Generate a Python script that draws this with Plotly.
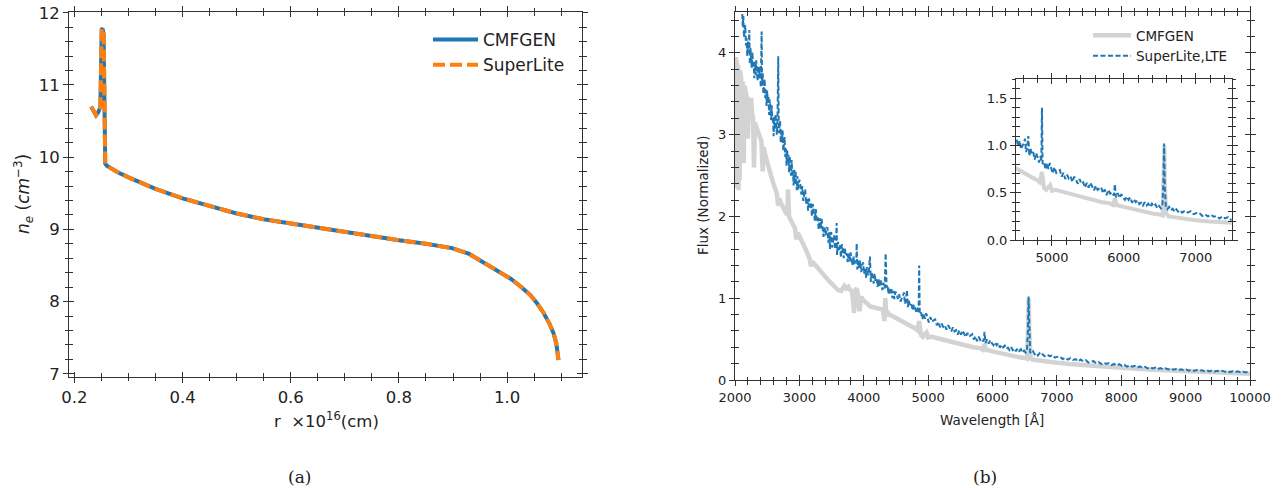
import plotly.graph_objects as go

# ---------------- Panel (a): electron density ----------------
r_vals = [0.231, 0.236, 0.240, 0.244, 0.248, 0.2505, 0.252, 0.254, 0.2555, 0.257,
          0.260, 0.270, 0.280, 0.300, 0.320, 0.350, 0.400, 0.450, 0.500, 0.550,
          0.600, 0.650, 0.700, 0.766, 0.800, 0.850, 0.898, 0.930, 0.950, 0.980,
          1.006, 1.025, 1.043, 1.056, 1.067, 1.078, 1.086, 1.091, 1.095]
ne_vals = [10.70, 10.64, 10.58, 10.62, 10.70, 11.77, 11.78, 11.70, 10.80, 9.91,
           9.88, 9.83, 9.79, 9.72, 9.66, 9.56, 9.43, 9.32, 9.22, 9.14,
           9.08, 9.02, 8.96, 8.89, 8.85, 8.80, 8.74, 8.66, 8.57, 8.44,
           8.32, 8.21, 8.09, 7.97, 7.85, 7.70, 7.56, 7.42, 7.19]

# ---------------- Panel (b): CMFGEN spectrum ----------------
wl_cmf = [2000, 2005, 2010, 2015, 2020, 2025, 2030, 2035, 2040, 2048, 2056, 2064, 2072,
          2080, 2095, 2110, 2120, 2135, 2150, 2170, 2190, 2200, 2215, 2235, 2250, 2265,
          2280, 2295, 2310, 2330, 2350, 2370, 2390, 2410, 2430, 2445, 2470, 2500, 2530,
          2560, 2590, 2620, 2650, 2670, 2690, 2720, 2750, 2780, 2810, 2825, 2840, 2870,
          2900, 2930, 2955, 2975, 3000, 3040, 3080, 3120, 3160, 3180, 3200, 3250, 3300,
          3350, 3400, 3450, 3500, 3550, 3600, 3650, 3700, 3730, 3760, 3790, 3820, 3850,
          3870, 3890, 3910, 3935, 3960, 3990, 4030, 4070, 4100, 4150, 4200, 4250, 4300,
          4320, 4335, 4350, 4380, 4400, 4450, 4500, 4550, 4600, 4650, 4700, 4750, 4800,
          4830, 4861, 4890, 4920, 4950, 4975, 5000, 5050, 5100, 5200, 5300, 5400, 5500,
          5600, 5700, 5800, 5850, 5876, 5900, 6000, 6100, 6200, 6300, 6400, 6500, 6540,
          6555, 6563, 6570, 6590, 6620, 6700, 6800, 7000, 7200, 7500, 8000, 8500, 9000,
          9500, 10000]
flux_cmf = [2.40, 3.90, 2.45, 3.95, 2.50, 3.92, 2.35, 3.88, 2.40, 3.85, 2.32, 3.80, 2.45,
            3.78, 3.70, 2.80, 3.65, 2.65, 3.60, 3.50, 3.45, 2.95, 3.40, 3.30, 3.45, 3.25,
            3.22, 2.60, 3.15, 3.10, 3.05, 3.02, 2.95, 2.92, 2.55, 2.85, 2.75, 2.68, 2.58,
            2.50, 2.42, 2.35, 2.28, 2.13, 2.22, 2.15, 2.10, 2.06, 2.02, 2.33, 2.00, 1.95,
            1.90, 1.86, 1.72, 1.80, 1.76, 1.70, 1.63, 1.56, 1.48, 1.39, 1.45, 1.40, 1.36,
            1.30, 1.26, 1.22, 1.18, 1.14, 1.10, 1.09, 1.15, 1.12, 1.14, 1.10, 1.08, 0.82,
            1.10, 1.12, 1.05, 0.84, 1.02, 0.98, 0.95, 0.93, 0.90, 0.89, 0.88, 0.87, 0.86,
            0.72, 1.00, 0.78, 0.82, 0.80, 0.78, 0.75, 0.73, 0.71, 0.69, 0.67, 0.65, 0.63,
            0.61, 0.72, 0.55, 0.53, 0.56, 0.58, 0.52, 0.53, 0.52, 0.50, 0.48, 0.45, 0.43,
            0.42, 0.40, 0.39, 0.37, 0.44, 0.37, 0.35, 0.33, 0.31, 0.30, 0.28, 0.27, 0.26,
            0.75, 1.00, 0.60, 0.28, 0.25, 0.24, 0.23, 0.21, 0.195, 0.175, 0.15, 0.125, 0.105,
            0.09, 0.075]

# ---------------- Panel (b): SuperLite (LTE) spectrum, in segments ----------------
wl_sl_a = [2100, 2110, 2120, 2130, 2140, 2150, 2160, 2170, 2180, 2190, 2200, 2210, 2222,
           2230, 2240, 2250, 2260, 2270, 2280, 2290, 2300, 2310, 2320, 2330, 2340, 2350,
           2360, 2370, 2380, 2390, 2400, 2414, 2420, 2430, 2440, 2450, 2460, 2470, 2480,
           2490, 2500, 2510, 2520, 2530, 2540, 2550, 2560, 2570, 2580, 2590, 2600, 2610,
           2620, 2630, 2640, 2650, 2660, 2672, 2680, 2690, 2700, 2710, 2720, 2730, 2740,
           2750, 2760, 2770, 2780, 2790, 2800, 2810, 2820, 2830, 2840, 2850, 2860, 2870,
           2880, 2890, 2900, 2910, 2920, 2930, 2940, 2950, 2960, 2970, 2980, 2990, 3000]
flux_sl_a = [4.75, 4.49, 4.32, 4.45, 4.19, 4.28, 4.34, 4.09, 4.18, 3.96, 4.14, 4.00, 4.28,
             3.86, 4.06, 3.94, 3.82, 4.01, 3.83, 3.88, 3.69, 3.89, 3.73, 3.91, 3.76, 3.66,
             3.84, 3.69, 3.75, 3.83, 3.58, 4.26, 3.60, 3.75, 3.50, 3.61, 3.68, 3.45, 3.55,
             3.35, 3.54, 3.39, 3.46, 3.24, 3.43, 3.31, 3.18, 3.36, 3.17, 3.22, 2.98, 3.22,
             3.06, 3.25, 3.10, 3.00, 3.18, 3.96, 3.02, 3.09, 3.17, 2.90, 3.07, 2.91, 3.05,
             2.80, 2.90, 2.97, 2.73, 2.83, 2.62, 2.82, 2.67, 2.75, 2.54, 2.74, 2.62, 2.50,
             2.69, 2.50, 2.56, 2.38, 2.57, 2.40, 2.56, 2.43, 2.32, 2.49, 2.33, 2.40, 2.45]

wl_sl_b = [3015, 3030, 3045, 3060, 3075, 3090, 3105, 3120, 3135, 3150, 3165, 3180, 3195,
           3210, 3225, 3240, 3255, 3270, 3285, 3300, 3315, 3330, 3345, 3360, 3375, 3390,
           3405, 3420, 3435, 3450, 3465, 3476, 3480, 3495, 3510, 3525, 3540, 3555, 3570,
           3579, 3585, 3600, 3615, 3630, 3645, 3660, 3675, 3690, 3705, 3720, 3735, 3750,
           3765, 3780, 3795, 3810, 3825, 3840, 3855, 3870, 3885, 3890, 3900, 3915, 3930,
           3945, 3960, 3975, 3990, 4005, 4020, 4035, 4050, 4065, 4080, 4096, 4110, 4125,
           4140, 4155, 4170, 4185, 4200, 4215, 4230, 4245, 4260, 4275, 4290, 4305, 4325,
           4340, 4355, 4370, 4385, 4400, 4415, 4430, 4445, 4460, 4475, 4490]
flux_sl_b = [2.39, 2.27, 2.37, 2.19, 2.27, 2.33, 2.15, 2.23, 2.07, 2.22, 2.11, 2.16, 2.00,
             2.15, 2.05, 1.95, 2.09, 1.95, 1.99, 1.84, 1.98, 1.85, 1.97, 1.84, 1.75, 1.88,
             1.77, 1.82, 1.87, 1.68, 1.81, 1.60, 1.73, 1.81, 1.62, 1.71, 1.77, 1.60, 1.68,
             1.92, 1.53, 1.69, 1.59, 1.65, 1.50, 1.66, 1.58, 1.49, 1.62, 1.52, 1.55, 1.44,
             1.56, 1.45, 1.56, 1.46, 1.40, 1.51, 1.42, 1.46, 1.50, 1.67, 1.35, 1.46, 1.37,
             1.46, 1.32, 1.39, 1.44, 1.30, 1.37, 1.25, 1.38, 1.28, 1.33, 1.51, 1.20, 1.32,
             1.26, 1.18, 1.30, 1.20, 1.23, 1.14, 1.23, 1.15, 1.23, 1.15, 1.10, 1.19, 1.12,
             1.55, 1.13, 1.16, 1.05, 1.13, 1.06, 1.11, 1.00, 1.09, 0.99, 1.08]

wl_sl_c = [4510, 4530, 4550, 4570, 4590, 4610, 4625, 4640, 4655, 4671, 4685, 4700, 4720,
           4740, 4760, 4780, 4800, 4820, 4840, 4852, 4861, 4870, 4890, 4910, 4930, 4950,
           4970, 4990, 5010, 5035, 5060, 5085, 5110, 5135, 5160, 5185, 5210, 5235, 5260,
           5285, 5310, 5335, 5360, 5385, 5410, 5435, 5460, 5485, 5510, 5535, 5560, 5585,
           5610, 5635, 5660, 5685, 5710, 5735, 5760, 5785, 5810, 5835, 5860, 5876, 5890,
           5915, 5940, 5965, 5990, 6015, 6040, 6065, 6090, 6115, 6140, 6165, 6190, 6215,
           6240, 6265, 6290, 6315, 6340, 6365, 6390, 6415, 6440, 6465, 6490, 6515, 6535,
           6550, 6560, 6570, 6585, 6605, 6630, 6655, 6680, 6705, 6730, 6755, 6780]
flux_sl_c = [1.06, 0.99, 1.05, 0.96, 0.99, 1.03, 1.07, 0.93, 0.97, 1.10, 0.89, 0.97, 0.91,
             0.93, 0.85, 0.92, 0.875, 0.82, 0.885, 0.83, 1.40, 0.805, 0.825, 0.745, 0.815, 0.75,
             0.815, 0.75, 0.705, 0.77, 0.71, 0.73, 0.74, 0.67, 0.71, 0.645, 0.69, 0.65, 0.67,
             0.615, 0.67, 0.635, 0.595, 0.645, 0.595, 0.61, 0.555, 0.605, 0.555, 0.605, 0.565, 0.525,
             0.575, 0.53, 0.545, 0.56, 0.495, 0.535, 0.475, 0.53, 0.49, 0.505, 0.47, 0.59, 0.45,
             0.495, 0.445, 0.485, 0.45, 0.425, 0.46, 0.425, 0.45, 0.395, 0.43, 0.40, 0.42, 0.38,
             0.395, 0.365, 0.40, 0.365, 0.385, 0.35, 0.385, 0.355, 0.375, 0.335, 0.36, 0.335, 0.355,
             0.60, 1.02, 0.55, 0.34, 0.325, 0.35, 0.315, 0.33, 0.30, 0.325, 0.30, 0.315]

wl_sl_d = [6810, 6850, 6890, 6930, 6970, 7010, 7050, 7090, 7130, 7170, 7210, 7250, 7290,
           7330, 7370, 7410, 7450, 7490, 7530, 7570, 7610, 7650, 7690, 7730, 7770, 7810,
           7850, 7890, 7930, 7970, 8010, 8050, 8090, 8130, 8170, 8210, 8250, 8290, 8330,
           8370, 8410, 8450, 8490, 8530, 8570, 8610, 8650, 8690, 8730, 8770, 8810, 8850,
           8890, 8930, 8970, 9010, 9050, 9090, 9130, 9170, 9210, 9250, 9290, 9330, 9370,
           9410, 9450, 9490, 9530, 9570, 9610, 9650, 9690, 9730, 9770, 9810, 9850, 9890,
           9930, 9970, 10000]
flux_sl_d = [0.29, 0.31, 0.29, 0.305, 0.273, 0.285, 0.287, 0.255, 0.272, 0.249, 0.268, 0.246, 0.255,
             0.227, 0.25, 0.228, 0.242, 0.214, 0.224, 0.23, 0.204, 0.218, 0.194, 0.213, 0.197, 0.207,
             0.183, 0.196, 0.176, 0.193, 0.173, 0.184, 0.164, 0.18, 0.164, 0.173, 0.152, 0.166, 0.149,
             0.162, 0.143, 0.154, 0.142, 0.152, 0.134, 0.146, 0.131, 0.142, 0.128, 0.139, 0.125, 0.134,
             0.12, 0.13, 0.119, 0.129, 0.114, 0.124, 0.112, 0.123, 0.112, 0.12, 0.107, 0.117, 0.106,
             0.116, 0.103, 0.112, 0.102, 0.112, 0.10, 0.109, 0.097, 0.107, 0.097, 0.105, 0.094, 0.103,
             0.093, 0.101, 0.094]

wl_sl = wl_sl_a + wl_sl_b + wl_sl_c + wl_sl_d
flux_sl = flux_sl_a + flux_sl_b + flux_sl_c + flux_sl_d

W, H = 1281, 488
BLUE = "#1f77b4"
ORANGE = "#ff7f0e"
GRAY = "#d3d3d3"
AX = "#333333"
FONT = "DejaVu Sans"


def px_x(p):
    return p / W


def px_y(p):
    return 1 - p / H


dom_a_x = [px_x(69), px_x(582)]
dom_a_y = [px_y(376.7), px_y(12)]
dom_b_x = [px_x(735), px_x(1250)]
dom_b_y = [px_y(380), px_y(12)]
dom_i_x = [px_x(1016), px_x(1231.7)]
dom_i_y = [px_y(240), px_y(79.3)]

fig = go.Figure()

# panel (a)
fig.add_trace(go.Scatter(x=r_vals, y=ne_vals, mode="lines", name="CMFGEN",
                         line=dict(color=BLUE, width=4), xaxis="x", yaxis="y",
                         legend="legend"))
fig.add_trace(go.Scatter(x=r_vals, y=ne_vals, mode="lines", name="SuperLite",
                         line=dict(color=ORANGE, width=4, dash="12px,5px"),
                         xaxis="x", yaxis="y", legend="legend"))
# panel (b)
fig.add_trace(go.Scatter(x=wl_cmf, y=flux_cmf, mode="lines", name="CMFGEN",
                         line=dict(color=GRAY, width=4.5), xaxis="x2", yaxis="y2",
                         legend="legend2"))
fig.add_trace(go.Scatter(x=wl_sl, y=flux_sl, mode="lines", name="SuperLite,LTE",
                         line=dict(color=BLUE, width=2, dash="5px,2.5px"),
                         xaxis="x2", yaxis="y2", legend="legend2"))
# inset
fig.add_trace(go.Scatter(x=wl_cmf, y=flux_cmf, mode="lines", showlegend=False,
                         line=dict(color=GRAY, width=4), xaxis="x3", yaxis="y3"))
fig.add_trace(go.Scatter(x=wl_sl, y=flux_sl, mode="lines", showlegend=False,
                         line=dict(color=BLUE, width=2, dash="5px,2.5px"),
                         xaxis="x3", yaxis="y3"))
# dummy traces for overlay axes (inward ticks)
for xa, ya in (("x4", "y4"), ("x5", "y5"), ("x6", "y6")):
    fig.add_trace(go.Scatter(x=[None], y=[None], mode="lines", showlegend=False,
                             hoverinfo="skip", xaxis=xa, yaxis=ya))


def axis(domain, rng, dtick, minor_dtick, fsize, fmt, anchor, ticks="outside",
         labels=True, overlay=None, line=True):
    d = dict(range=rng, dtick=dtick, tick0=0, ticks=ticks, ticklen=5, tickwidth=1,
             tickcolor=AX, showgrid=False, zeroline=False, mirror="allticks",
             showline=line, linecolor=AX, linewidth=1, showticklabels=labels,
             tickfont=dict(family=FONT, size=fsize, color="#222"), tickformat=fmt,
             anchor=anchor, fixedrange=True, automargin=False,
             minor=dict(dtick=minor_dtick, tick0=0, ticks=ticks, ticklen=3.5,
                        tickwidth=1, tickcolor=AX, showgrid=False))
    if overlay:
        d["overlaying"] = overlay
    else:
        d["domain"] = domain
    return d


xr_a = [0.19, 1.1385]
yr_a = [6.96, 12.01]
xr_b = [2000, 10000]
yr_b = [0, 4.5]
xr_i = [4500, 7500]
yr_i = [0, 1.7]

FA, FB = 16.5, 13

fig.update_layout(
    template="none",
    width=W, height=H, autosize=False,
    margin=dict(l=0, r=0, t=0, b=0, pad=0),
    paper_bgcolor="white", plot_bgcolor="white",
    font=dict(family=FONT, color="#222"),
    xaxis=axis(dom_a_x, xr_a, 0.2, 0.05, FA, ".1f", "y"),
    yaxis=axis(dom_a_y, yr_a, 1, 0.2, FA, "d", "x"),
    xaxis2=axis(dom_b_x, xr_b, 1000, 200, FB, "d", "y2"),
    yaxis2=axis(dom_b_y, yr_b, 1, 0.2, FB, "d", "x2"),
    xaxis3=axis(dom_i_x, xr_i, 1000, 200, FB, "d", "y3"),
    yaxis3=axis(dom_i_y, yr_i, 0.5, 0.1, FB, ".1f", "x3"),
    xaxis4=axis(None, xr_a, 0.2, 0.05, FA, ".1f", "y4", "inside", False, "x", False),
    yaxis4=axis(None, yr_a, 1, 0.2, FA, "d", "x4", "inside", False, "y", False),
    xaxis5=axis(None, xr_b, 1000, 200, FB, "d", "y5", "inside", False, "x2", False),
    yaxis5=axis(None, yr_b, 1, 0.2, FB, "d", "x5", "inside", False, "y2", False),
    xaxis6=axis(None, xr_i, 1000, 200, FB, "d", "y6", "inside", False, "x3", False),
    yaxis6=axis(None, yr_i, 0.5, 0.1, FB, ".1f", "x6", "inside", False, "y3", False),
    legend=dict(x=px_x(428), y=px_y(22), xanchor="left", yanchor="top",
                bgcolor="rgba(255,255,255,0)", borderwidth=0, itemwidth=45,
                font=dict(family=FONT, size=17, color="#222"), tracegroupgap=2),
    legend2=dict(x=px_x(1088), y=px_y(20), xanchor="left", yanchor="top",
                 bgcolor="rgba(255,255,255,0)", borderwidth=0, itemwidth=38,
                 font=dict(family=FONT, size=13.5, color="#222")),
    showlegend=True,
)

annotations = [
    dict(text="<i>n<sub>e</sub></i> (<i>cm</i><sup>−3</sup>)", x=px_x(24), y=px_y(194),
         textangle=-90, font=dict(family=FONT, size=17, color="#222")),
    dict(text="r  ×10<sup>16</sup>(cm)", x=px_x(326), y=px_y(420),
         font=dict(family=FONT, size=16.5, color="#222")),
    dict(text="Flux (Normalized)", x=px_x(703), y=px_y(196), textangle=-90,
         font=dict(family=FONT, size=13.5, color="#222")),
    dict(text="Wavelength [Å]", x=px_x(992), y=px_y(420),
         font=dict(family=FONT, size=13.5, color="#222")),
    dict(text="(a)", x=px_x(299), y=px_y(477),
         font=dict(family="DejaVu Serif", size=17, color="#222")),
    dict(text="(b)", x=px_x(985), y=px_y(477),
         font=dict(family="DejaVu Serif", size=17, color="#222")),
]
for a in annotations:
    a.update(xref="paper", yref="paper", showarrow=False, xanchor="center",
             yanchor="middle")
fig.update_layout(annotations=annotations)

fig.write_html("out.html")
